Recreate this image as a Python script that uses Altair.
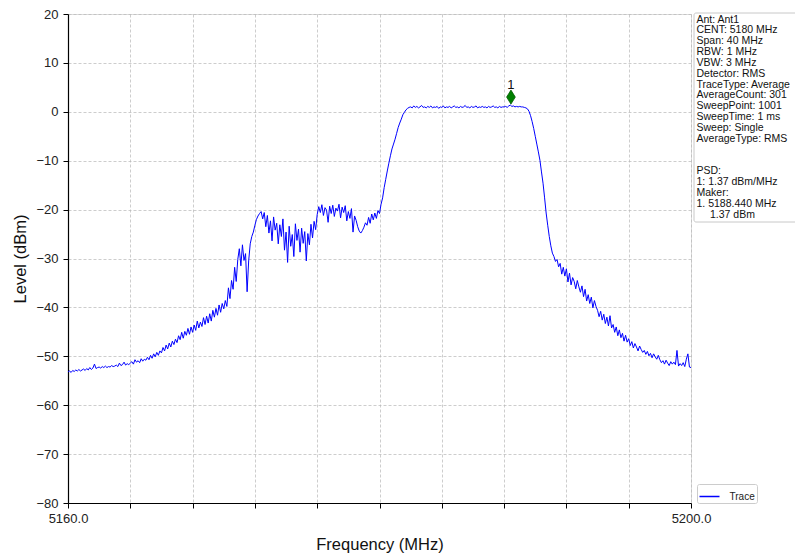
import altair as alt
import pandas as pd
import numpy as np

# ---- data ----
start_freq = 5160.0
stop_freq = 5200.0

levels = [
    -53.2, -53.0, -53.3, -52.9, -53.1, -52.8, -53.0, -52.7, -53.0, -52.8,
    -52.6, -52.9, -52.5, -52.8, -52.3, -52.7, -52.4, -51.6, -52.5, -52.3,
    -52.2, -52.4, -52.1, -52.3, -52.0, -52.3, -52.1, -52.2, -51.9, -52.1,
    -52.0, -51.8, -52.1, -51.4, -51.9, -51.7, -51.2, -51.8, -51.5, -51.7,
    -51.4, -51.1, -51.6, -50.7, -51.2, -50.9, -51.3, -50.5, -51.0, -50.6,
    -50.8, -50.2, -50.7, -49.8, -50.4, -49.5, -50.1, -49.2, -49.8, -48.9,
    -49.3, -48.2, -48.9, -47.7, -48.5, -47.3, -48.1, -46.9, -47.6, -46.5,
    -47.2, -45.8, -46.6, -45.1, -46.3, -44.9, -45.7, -44.3, -45.5, -44.0,
    -45.1, -43.6, -44.7, -42.8, -44.2, -43.0, -43.9, -42.1, -43.5, -41.8,
    -43.2, -41.3, -42.8, -40.6, -42.0, -40.2, -41.6, -39.5, -41.0, -39.2,
    -40.3, -38.6, -39.8, -36.0, -38.2, -34.5, -36.3, -31.8, -34.7, -30.2,
    -28.0, -31.5, -27.2, -30.4, -29.0, -36.8, -30.5, -27.0, -25.5, -24.6,
    -23.2, -22.0, -21.3, -20.8, -20.4, -21.9, -20.6, -23.5, -21.2, -24.8,
    -22.3, -26.4, -21.5, -24.2, -22.8, -27.0, -23.1, -25.5, -21.9, -28.3,
    -24.6, -30.8, -23.4, -27.5, -25.1, -29.6, -22.9, -26.3, -24.0, -28.7,
    -23.8, -26.9, -24.5, -30.5, -24.9, -27.2, -23.0, -25.8, -22.4, -24.1,
    -21.0, -19.4, -20.6, -19.0, -21.2, -19.6, -20.1, -22.6, -19.3, -20.8,
    -19.1, -21.4, -19.7, -20.3, -18.9, -21.7, -19.5, -20.6, -19.2, -22.3,
    -20.4, -21.8, -19.8, -24.6, -21.3, -22.2, -23.5, -24.4, -24.8, -24.3,
    -23.6, -22.7, -23.2, -21.6, -22.8, -20.9, -22.1, -20.7, -21.8, -20.2,
    -20.8, -18.9, -17.6, -15.5, -13.8, -12.1, -10.5, -9.0, -7.6, -6.6,
    -5.6, -4.4, -3.2, -2.3, -1.5, -0.6, -0.1, 0.4, 0.7, 0.9,
    1.0, 0.8, 1.2, 0.9, 1.1, 0.8, 1.0, 1.3, 0.9, 1.0,
    0.8, 1.1, 0.9, 1.2, 0.8, 1.0, 0.9, 1.1, 0.7, 1.0,
    0.9, 1.2, 0.8, 1.0, 0.9, 1.1, 0.8, 1.0, 1.2, 0.9,
    1.0, 0.8, 1.1, 0.9, 1.0, 1.3, 0.9, 1.0, 0.8, 1.1,
    0.9, 1.0, 1.2, 0.8, 1.0, 0.9, 1.1, 0.9, 1.0, 0.8,
    1.1, 0.9, 1.0, 1.2, 0.9, 1.0, 0.8, 1.1, 0.9, 1.0,
    1.0, 1.1, 0.9, 1.2, 1.37, 1.1, 1.2, 1.0, 1.1, 1.0,
    1.1, 1.0, 1.0, 0.9, 0.8, 0.6, 0.1, -0.8, -2.0, -3.4,
    -5.0, -6.6, -8.2, -9.9, -12.3, -14.6, -17.6, -20.7, -23.2, -25.5,
    -27.4, -28.9, -29.6, -30.6, -30.2, -31.7, -31.0, -33.2, -31.8, -33.6,
    -32.1, -34.8, -33.0, -35.4, -33.9, -34.7, -36.2, -34.5, -35.8, -36.9,
    -35.6, -37.8, -36.3, -38.7, -37.4, -39.2, -37.9, -40.1, -38.6, -39.8,
    -40.6, -41.9, -40.8, -42.6, -41.4, -43.3, -42.0, -43.8, -41.7, -44.2,
    -43.5, -45.1, -44.0, -45.8, -44.6, -46.2, -45.3, -46.9, -45.7, -47.1,
    -46.4, -47.8, -47.0, -48.3, -47.4, -48.1, -48.9, -47.9, -48.6, -49.2,
    -48.8, -49.6, -49.0, -49.9, -49.4, -50.3, -49.5, -50.1, -50.6, -49.8,
    -50.7, -51.3, -50.9, -51.6, -50.8, -51.4, -51.9, -51.1, -51.6, -51.2,
    -51.7, -48.8, -52.0, -51.5, -51.9, -51.3, -52.1, -50.6, -49.5, -52.2,
    -52.3,
]

series_name = ["Trace"]
marker_freq = [5188.44]
marker_level = [1.37]
marker_label = ["1"]

x_ticks = [5160, 5164, 5168, 5172, 5176, 5180, 5184, 5188, 5192, 5196, 5200]
y_ticks = [-80, -70, -60, -50, -40, -30, -20, -10, 0, 10, 20]

info_settings = [
    "Ant: Ant1",
    "CENT: 5180 MHz",
    "Span: 40 MHz",
    "RBW: 1 MHz",
    "VBW: 3 MHz",
    "Detector: RMS",
    "TraceType: Average",
    "AverageCount: 301",
    "SweepPoint: 1001",
    "SweepTime: 1 ms",
    "Sweep: Single",
    "AverageType: RMS",
]
info_results = [
    "PSD:",
    "1: 1.37 dBm/MHz",
    "Maker:",
    "1. 5188.440 MHz",
]
info_marker_level = ["1.37 dBm"]

# ---- tables ----
freqs = np.round(np.linspace(start_freq, stop_freq, len(levels)), 4)
trace_df = pd.DataFrame({"freq": freqs, "level": levels, "series": series_name[0]})
marker_df = pd.DataFrame({"freq": marker_freq, "level": marker_level, "label": marker_label})
box_df = pd.DataFrame({"k": [0]})

FONT = "Liberation Sans"
LH = 10.85

x_scale = alt.Scale(domain=[start_freq, stop_freq], nice=False, zero=False)
y_scale = alt.Scale(domain=[-80, 20], nice=False, zero=False)

x_axis = alt.Axis(
    title="Frequency (MHz)",
    values=x_ticks,
    labelExpr="(datum.value == 5160 || datum.value == 5200) ? format(datum.value, '.1f') : ''",
    labelOverlap=False,
    labelFlush=False,
    grid=True,
    gridDash=[3, 2],
    gridColor="#b8b8b8",
    gridWidth=0.7,
    tickSize=5,
    tickColor="black",
    domainColor="black",
    domainWidth=1.2,
    labelFontSize=13,
    labelFont=FONT,
    labelColor="#222222",
    labelPadding=4,
    titleFont=FONT,
    titleFontSize=16.5,
    titleFontWeight="normal",
    titleColor="#111111",
    titlePadding=11,
)

y_axis = alt.Axis(
    title="Level (dBm)",
    values=y_ticks,
    format="d",
    grid=True,
    gridDash=[3, 2],
    gridColor="#b8b8b8",
    gridWidth=0.7,
    tickSize=5,
    tickColor="black",
    domainColor="black",
    domainWidth=1.2,
    labelFontSize=13,
    labelFont=FONT,
    labelColor="#222222",
    labelPadding=5,
    titleFont=FONT,
    titleFontSize=16.5,
    titleFontWeight="normal",
    titleColor="#111111",
    titlePadding=7,
)

trace = alt.Chart(trace_df).mark_line(strokeWidth=1).encode(
    x=alt.X("freq:Q", scale=x_scale, axis=x_axis),
    y=alt.Y("level:Q", scale=y_scale, axis=y_axis),
    color=alt.Color(
        "series:N",
        scale=alt.Scale(domain=series_name, range=["#0000ff"]),
        legend=alt.Legend(
            title=None,
            orient="none",
            legendX=629,
            legendY=470,
            symbolType="stroke",
            symbolSize=400,
            symbolStrokeWidth=1.5,
            labelFont=FONT,
            labelFontSize=10,
            labelColor="#222222",
            labelOffset=9,
            padding=1.5,
            strokeColor="#cccccc",
            fillColor="white",
            cornerRadius=2,
        ),
    ),
)

marker = alt.Chart(marker_df).mark_point(
    shape="M0,-1L0.62,0L0,1L-0.62,0Z",
    size=196,
    filled=True,
    fill="#008000",
    stroke="#005a00",
    strokeWidth=0.8,
    opacity=1,
    yOffset=-8,
).encode(x=alt.X("freq:Q", scale=x_scale), y=alt.Y("level:Q", scale=y_scale))

marker_text = alt.Chart(marker_df).mark_text(
    font=FONT, fontSize=13, color="#111111", yOffset=-20, baseline="middle", align="center"
).encode(x=alt.X("freq:Q", scale=x_scale), y=alt.Y("level:Q", scale=y_scale), text="label:N")

box = alt.Chart(box_df).mark_rect(
    fill="white", stroke="#c8c8c8", strokeWidth=1, cornerRadius=2
).encode(x=alt.value(626), x2=alt.value(800), y=alt.value(-1), y2=alt.value(208))

text_style = dict(font=FONT, fontSize=10.5, align="left", baseline="top", lineHeight=LH, color="#111111")

info_a = alt.Chart(box_df).mark_text(**text_style).encode(
    x=alt.value(628.5), y=alt.value(0.5), text=alt.value(info_settings)
)
info_b = alt.Chart(box_df).mark_text(**text_style).encode(
    x=alt.value(628.5), y=alt.value(0.5 + 14 * LH), text=alt.value(info_results)
)
info_c = alt.Chart(box_df).mark_text(**text_style).encode(
    x=alt.value(642), y=alt.value(0.5 + 18 * LH), text=alt.value(info_marker_level[0])
)

chart = alt.layer(trace, marker, marker_text, box, info_a, info_b, info_c).properties(
    width=623,
    height=489,
    autosize=alt.AutoSizeParams(type="none"),
    padding={"left": 60, "top": 6, "right": 104, "bottom": 50},
).configure_view(
    stroke="black", strokeWidth=1.2
).configure(background="white")

chart.save("out.html", embed_options={"renderer": "svg", "actions": False})
